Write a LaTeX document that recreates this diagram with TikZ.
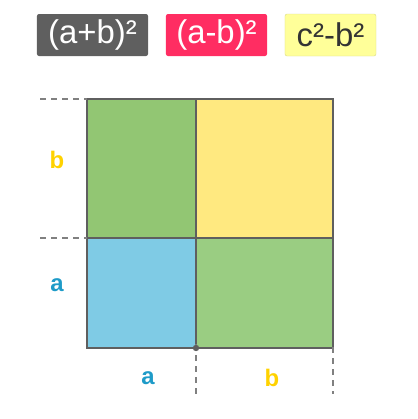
\documentclass[tikz,border=0pt]{standalone}
\usepackage{fontspec}
\setmainfont{Liberation Sans}
\begin{document}
\begin{tikzpicture}[x=1bp,y=-1bp,
  tag/.style={rounded corners=2bp,inner sep=0pt,minimum height=42bp,font=\fontsize{33}{36}\selectfont},
  cell/.style={draw=edge,line width=1.5bp},
  guide/.style={draw=guidegray,line width=1.2bp,dash pattern=on 6bp off 5bp},
  side/.style={font=\fontsize{24}{26}\selectfont\bfseries}]
\definecolor{edge}{HTML}{5F5F5F}
\definecolor{guidegray}{HTML}{808080}
\definecolor{gA}{HTML}{92C673}
\definecolor{gB}{HTML}{9ACD82}
\definecolor{yel}{HTML}{FFE980}
\definecolor{blu}{HTML}{7FCBE5}
\definecolor{ylab}{HTML}{FFD200}
\definecolor{blab}{HTML}{1E9BC8}
\definecolor{tag1}{HTML}{5F5F5F}
\definecolor{tag2}{HTML}{FF2D62}
\definecolor{tag3}{HTML}{FFFF99}
\definecolor{tag3e}{HTML}{D8D88A}
\useasboundingbox (0,0) rectangle (418,419);
% tags
\node[tag,fill=tag1,text=white,minimum width=111bp] (t1) at (92.5,35) {(a+b)²};
\node[tag,fill=tag2,text=white,minimum width=101bp] (t2) at (216.5,35) {(a-b)²};
\node[tag,fill=tag3,draw=tag3e,text=black!80,minimum width=91bp] (t3) at (330.5,35) {c²-b²};
% cells
\coordinate (p00) at (87,99);
\coordinate (p10) at (196,99);
\coordinate (p20) at (333,99);
\coordinate (p01) at (87,238);
\coordinate (p11) at (196,238);
\coordinate (p21) at (333,238);
\coordinate (p02) at (87,348);
\coordinate (p12) at (196,348);
\coordinate (p22) at (333,348);
\fill[gA] (p00) rectangle (p11);
\fill[yel] (p10) rectangle (p21);
\fill[blu] (p01) rectangle (p12);
\fill[gB] (p11) rectangle (p22);
\draw[cell] (p00) rectangle (p22);
\draw[cell] (p10) -- (p12);
\draw[cell] (p01) -- (p21);
% guides
\coordinate (l0) at (40,99);
\coordinate (l1) at (40,238);
\coordinate (d1) at (196,394);
\coordinate (d2) at (333,394);
\draw[guide] (l0) -- (p00);
\draw[guide] (l1) -- (p01);
\draw[guide] ([yshift=4bp]p12) -- (d1);
\draw[guide] ([yshift=1bp]p22) -- (d2);
\fill[edge] (p12) circle (3.2bp);
% side labels
\node[side,text=ylab] (lb) at (57,160) {b};
\node[side,text=blab] (la) at (57,285) {a};
\node[side,text=blab] (ba) at (148,378) {a};
\node[side,text=ylab] (bb) at (272,378) {b};
\end{tikzpicture}
\end{document}
